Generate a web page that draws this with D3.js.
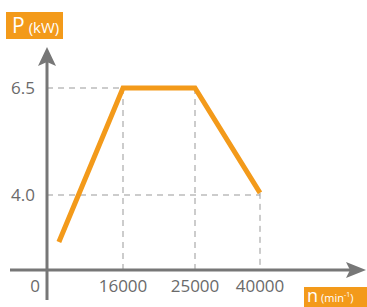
<!DOCTYPE html>
<html lang="en">
  <head>
    <meta charset="UTF-8" />
    <title>Power curve</title>
    <script src="https://cdn.jsdelivr.net/npm/d3@7"></script>
    <style>
      body,
      html {
        margin: 0;
        padding: 0;
        background: #fff;
      }
      text {
        font-family: "Open Sans", "DejaVu Sans", sans-serif;
      }
    </style>
  </head>
  <body>
    <svg id="chart" width="367" height="307"></svg>
    <script type="text/javascript">
      // data
      const speeds = [2500, 16000, 25000, 40000];
      const power = [2.9, 6.5, 6.5, 4.05];
      const xTicks = [16000, 25000, 40000];
      const yTicks = [4.0, 6.5];

      const orange = "#f39a1a";
      const axisGrey = "#777";

      const svg = d3.select("#chart");

      // x axis is not to scale in the original, so map piecewise
      const x = d3
        .scaleLinear()
        .domain([0, 16000, 25000, 40000])
        .range([47, 123, 195, 260]);
      const y = d3.scaleLinear().domain([4.0, 6.5]).range([195, 88]);

      const x0 = x(0);
      const axisY = 270;

      // dashed guides
      const guides = svg.append("g").attr("stroke", "#999").attr("stroke-width", 1).attr("stroke-dasharray", "6,5");
      yTicks.forEach((v, i) => {
        const pt = i === 0 ? x(40000) : x(16000);
        guides.append("line").attr("x1", x0).attr("x2", pt).attr("y1", y(v)).attr("y2", y(v));
      });
      xTicks.forEach((v) => {
        const top = v === 40000 ? y(power[3]) : y(6.5);
        guides.append("line").attr("x1", x(v)).attr("x2", x(v)).attr("y1", top).attr("y2", axisY);
      });

      // axes
      svg.append("line").attr("x1", x0).attr("x2", x0).attr("y1", 62).attr("y2", 300)
        .attr("stroke", axisGrey).attr("stroke-width", 3);
      svg.append("path").attr("d", `M${x0},47 L${x0 + 9},66 L${x0},62 L${x0 - 9},66 Z`).attr("fill", axisGrey);
      svg.append("line").attr("x1", 10).attr("x2", 350).attr("y1", axisY).attr("y2", axisY)
        .attr("stroke", axisGrey).attr("stroke-width", 3);
      svg.append("path").attr("d", `M366,${axisY} L346,${axisY - 8} L350,${axisY} L346,${axisY + 8} Z`).attr("fill", axisGrey);

      // curve
      svg.append("path")
        .datum(speeds.map((s, i) => [s, power[i]]))
        .attr("fill", "none")
        .attr("stroke", orange)
        .attr("stroke-width", 5)
        .attr("stroke-linejoin", "miter")
        .attr("d", d3.line().x((d) => x(d[0])).y((d) => y(d[1])));

      // tick labels
      svg.selectAll(".ylab").data(yTicks).join("text")
        .attr("x", 35).attr("y", (d) => y(d)).attr("dy", "0.36em")
        .attr("text-anchor", "end").attr("font-size", 17).attr("fill", "#6a6a6a")
        .text((d) => d.toFixed(1));
      svg.selectAll(".xlab").data([0].concat(xTicks)).join("text")
        .attr("x", (d) => (d === 0 ? 35 : x(d))).attr("y", 292)
        .attr("text-anchor", "middle").attr("font-size", 17).attr("fill", "#6a6a6a")
        .text((d) => d);

      // unit boxes
      svg.append("rect").attr("x", 6).attr("y", 12).attr("width", 57).attr("height", 27).attr("fill", orange);
      const pt = svg.append("text").attr("x", 12).attr("y", 33).attr("fill", "#fff");
      pt.append("tspan").attr("font-size", 21).text("P");
      pt.append("tspan").attr("font-size", 15).attr("dx", 4).text("(kW)");

      svg.append("rect").attr("x", 304).attr("y", 287).attr("width", 63).attr("height", 20).attr("fill", orange);
      const nt = svg.append("text").attr("x", 307).attr("y", 302).attr("fill", "#fff");
      nt.append("tspan").attr("font-size", 18).text("n");
      nt.append("tspan").attr("font-size", 11).attr("dx", 3).text("(min");
      nt.append("tspan").attr("font-size", 7).attr("dy", -5).text("-1");
      nt.append("tspan").attr("font-size", 11).attr("dy", 5).text(")");
    </script>
  </body>
</html>
